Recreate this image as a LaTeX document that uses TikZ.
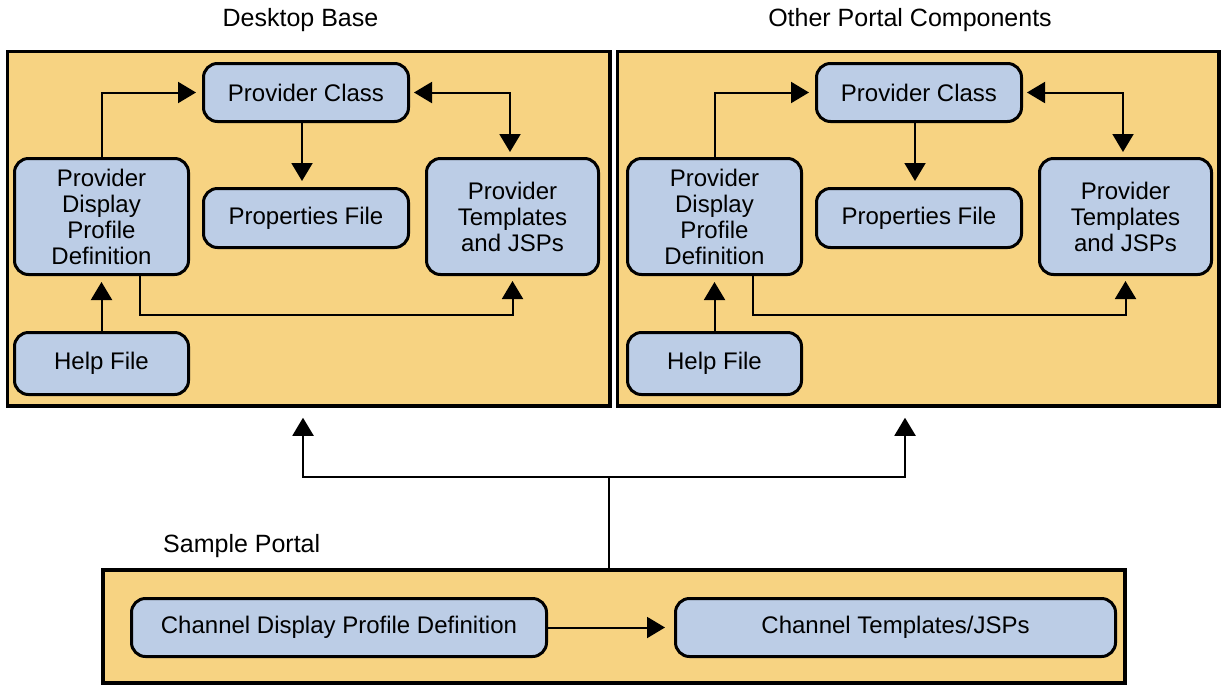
\documentclass[tikz,border=0pt]{standalone}
\usepackage{fontspec}
\setmainfont{Liberation Sans}
\usetikzlibrary{arrows.meta}
\definecolor{panelfill}{RGB}{247,211,130}
\definecolor{boxfill}{RGB}{188,205,230}
\newcommand\boxfont{\fontsize{24}{26}\selectfont}
\newcommand\titlefont{\fontsize{25}{28}\selectfont}
\begin{document}
\begin{tikzpicture}[x=1pt,y=-1pt,
  panel/.style={draw=black, line width=3.5pt, fill=panelfill, inner sep=0pt},
  box/.style={draw=black, line width=3pt, fill=boxfill, rounded corners=14pt,
    inner sep=0pt, align=center, font=\boxfont},
  title/.style={font=\titlefont, inner sep=0pt},
  tip/.tip={Triangle[length=18pt,width=21pt]},
  wire/.style={line width=2pt},
  conn/.style={wire, -tip, shorten >=6pt}]

\useasboundingbox (0,0) rectangle (1222,686);

% panels
\node[panel, minimum width=602.5pt, minimum height=354.5pt] (DB) at (308.75,228.75) {};
\node[panel, minimum width=601.5pt, minimum height=354.5pt] (OPC) at (918.25,228.75) {};
\node[panel, minimum width=1022pt, minimum height=113pt] (SP) at (614,626.5) {};

% panel titles
\node[title, anchor=base] (tDB) at (300.5,26) {Desktop Base};
\node[title, anchor=base] (tOPC) at (910,26) {Other Portal Components};
\node[title, anchor=base west] (tSP) at (163,552) {Sample Portal};

% boxes of the two upper panels
\foreach \i/\dx in {1/0, 2/613} {
  \node[box, minimum width=205pt, minimum height=58pt] (PC\i) at (306+\dx,92.5) {Provider Class};
  \node[box, minimum width=205pt, minimum height=59pt] (PF\i) at (306+\dx,218) {Properties File};
  \node[box, minimum width=172pt, minimum height=116pt] (PT\i) at (512.5+\dx,216.5) {Provider\\Templates\\and JSPs};
  \node[box, minimum width=174pt, minimum height=116pt] (PD\i) at (101.5+\dx,216.5) {Provider\\Display\\Profile\\Definition};
  \node[box, minimum width=174pt, minimum height=62pt] (HF\i) at (101.5+\dx,363.5) {Help File};
  \coordinate (K\i) at (140+\dx,315);

  \draw[conn] (PD\i.north) |- (PC\i.west);
  \draw[wire, tip-tip, shorten <=4pt, shorten >=5pt] (PC\i.east) -| ([xshift=-2.5pt]PT\i.north);
  \draw[conn] ([xshift=-4pt]PC\i.south) -- ([xshift=-4pt]PF\i.north);
  \draw[conn, shorten >=5pt] (PD\i.south -| K\i) -- (K\i) -| (PT\i.south);
  \draw[conn] (HF\i.north) -- (PD\i.south);
}

% boxes of the lower panel
\node[box, minimum width=415pt, minimum height=58pt] (CD) at (339,627.5) {Channel Display Profile Definition};
\node[box, minimum width=440pt, minimum height=58pt] (CT) at (895.5,627.5) {Channel Templates/JSPs};
\draw[conn, shorten >=9pt] (CD.east) -- (CT.west);

% links from the sample portal to the upper panels
\coordinate (J) at (609,477);
\draw[wire] (SP.north -| J) -- (J);
\draw[conn, shorten >=10pt] (J) -| ([xshift=-5.75pt]DB.south);
\draw[conn, shorten >=10pt] (J) -| ([xshift=-13.25pt]OPC.south);
\end{tikzpicture}
\end{document}
